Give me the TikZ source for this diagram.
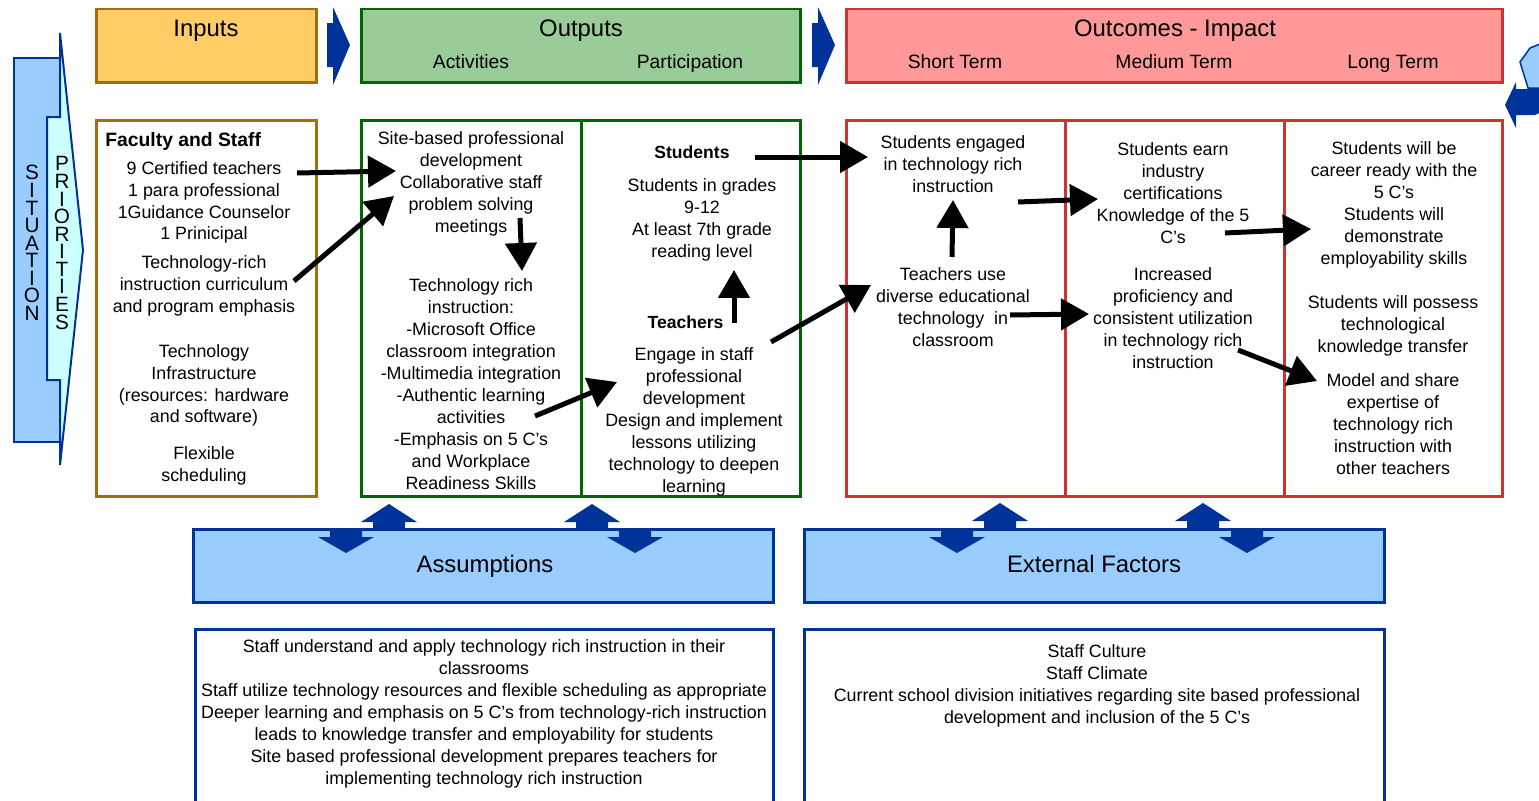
\documentclass[tikz,border=0pt]{standalone}
\usepackage{fontspec}
\setmainfont{Liberation Sans}
\usetikzlibrary{arrows.meta}

% colours of the three columns and of the blue parts
\definecolor{inputfill}{RGB}{255,204,102}
\definecolor{inputline}{RGB}{160,110,10}
\definecolor{outputfill}{RGB}{153,204,153}
\definecolor{outputline}{RGB}{0,102,0}
\definecolor{outcomefill}{RGB}{255,153,153}
\definecolor{outcomeline}{RGB}{204,51,51}
\definecolor{paleblue}{RGB}{153,204,255}
\definecolor{paleaqua}{RGB}{204,255,255}
\definecolor{navy}{RGB}{0,51,153}

\tikzset{
  txt/.style={align=center, inner sep=0pt, yshift=-1.1pt, font=\fontsize{10.15}{12.5}\selectfont},
  boldtxt/.style={inner sep=0pt, text height=0.72em, text depth=0pt, font=\fontsize{10}{12.5}\selectfont\bfseries},
  head/.style={inner sep=0pt, yshift=-1pt, text height=0.72em, text depth=0pt, font=\fontsize{13.6}{16}\selectfont},
  subhead/.style={inner sep=0pt, text height=0.72em, text depth=0pt, font=\fontsize{11}{13}\selectfont},
  letters/.style={align=center, inner sep=0pt, font=\fontsize{11.8}{10}\selectfont},
  frame/.style={line width=0.06cm},
  flow/.style={line width=0.1cm, -{Triangle[length=0.56cm,width=0.62cm]}},
}

\begin{document}
\begin{tikzpicture}[x=0.02cm, y=-0.02cm]
  \useasboundingbox (0,0) rectangle (1539,801);
  \clip (0,0) rectangle (1539,801);

  % Situation and priorities
  \draw [navy, line width=0.04cm, fill=paleblue] (14,58) rectangle (60,442);
  \draw [navy, line width=0.04cm, fill=paleaqua] (47,117) -- (60,117) -- (60,33) -- (83,250)
        -- (60,465) -- (60,380) -- (47,380) -- cycle;
  \node [letters] (situation) at (32,243) {S\\I\\T\\U\\A\\T\\I\\O\\N};
  \node [letters] (priorities) at (62,243) {P\\R\\I\\O\\R\\I\\T\\I\\E\\S};

  % Header bars
  \draw [frame, inputline, fill=inputfill] (96,9) rectangle (316,82);
  \draw [frame, outputline, fill=outputfill] (361,9) rectangle (800,82);
  \draw [frame, outcomeline, fill=outcomefill] (846,9) rectangle (1502,82);
  \node [head] (inputs) at (206,28) {Inputs};
  \node [head] (outputs) at (581,28) {Outputs};
  \node [subhead] (activities) at (471,62) {Activities};
  \node [subhead] (participation) at (690,62) {Participation};
  \node [head] (outcomes) at (1175,28) {Outcomes - Impact};
  \node [subhead] (shortterm) at (955,62) {Short Term};
  \node [subhead] (mediumterm) at (1174,62) {Medium Term};
  \node [subhead] (longterm) at (1393,62) {Long Term};

  % Chevrons between the header bars
  \fill [navy] (327,23) -- (333,23) -- (333,7) -- (350,45) -- (333,85) -- (333,67) -- (327,67) -- cycle;
  \fill [navy] (812,23) -- (818,23) -- (818,7) -- (835,45) -- (818,85) -- (818,67) -- (812,67) -- cycle;

  % Shapes cut off at the right border
  \draw [navy, line width=0.03cm, fill=paleblue] (1520,62) -- (1530,48) -- (1545,42) -- (1545,88) -- (1528,88) -- cycle;
  \fill [navy] (1505,105) -- (1516,82) -- (1516,89) -- (1545,89) -- (1545,110) -- (1535,115)
        -- (1516,115) -- (1516,128) -- cycle;

  % Column boxes
  \draw [frame, inputline, fill=white] (96,120) rectangle (316,496);
  \draw [frame, outputline, fill=white] (361,120) rectangle (800,496);
  \draw [frame, outputline] (581,120) -- (581,496);
  \draw [frame, outcomeline, fill=white] (846,120) rectangle (1502,496);
  \draw [frame, outcomeline] (1065,120) -- (1065,496);
  \draw [frame, outcomeline] (1284,120) -- (1284,496);

  % Inputs
  \node [boldtxt, font=\fontsize{11}{13}\selectfont\bfseries, anchor=west] (facstaff) at (105,140) {Faculty and Staff};
  \node [txt] (staffing) at (204,200.5) {9 Certified teachers\\1 para professional\\1Guidance Counselor\\1 Prinicipal};
  \node [txt] (techrich) at (204,283.5) {Technology-rich\\instruction curriculum\\and program emphasis};
  \node [txt] (infra) at (204,383.5) {Technology\\Infrastructure\\(resources: hardware\\and software)};
  \node [txt] (flex) at (204,464) {Flexible\\scheduling};

  % Outputs: activities
  \node [txt] (sitepd) at (471,182) {Site-based professional\\development\\Collaborative staff\\problem solving\\meetings};
  \node [txt] (techinst) at (471,382.5) {Technology rich\\instruction:\\-Microsoft Office\\classroom integration\\-Multimedia integration\\-Authentic learning\\activities\\-Emphasis on 5 C’s\\and Workplace\\Readiness Skills};

  % Outputs: participation
  \node [boldtxt] (students) at (692,152) {Students};
  \node [txt] (grades) at (702,218) {Students in grades\\9-12\\At least 7th grade\\reading level};
  \node [boldtxt] (teachers) at (685.5,322) {Teachers};
  \node [txt] (engage) at (694,420) {Engage in staff\\professional\\development\\Design and implement\\lessons utilizing\\technology to deepen\\learning};

  % Outcomes: short term
  \node [txt] (engaged) at (953,162) {Students engaged\\in technology rich\\instruction};
  \node [txt] (diverse) at (953,305) {Teachers use\\diverse educational\\technology\ \ in\\classroom};

  % Outcomes: medium term
  \node [txt] (certs) at (1173,191) {Students earn\\industry\\certifications\\Knowledge of the 5\\C’s};
  \node [txt] (proficiency) at (1173,316.5) {Increased\\proficiency and\\consistent utilization\\in technology rich\\instruction};

  % Outcomes: long term
  \node [txt] (career) at (1394,203) {Students will be\\career ready with the\\5 C’s\\Students will\\demonstrate\\employability skills};
  \node [txt] (transfer) at (1393,324) {Students will possess\\technological\\knowledge transfer};
  \node [txt] (share) at (1393,422.5) {Model and share\\expertise of\\technology rich\\instruction with\\other teachers};

  % Arrow ends
  \coordinate (staffing-out) at (297,173);
  \coordinate (sitepd-in) at (396,171);
  \coordinate (techrich-out) at (294,281);
  \coordinate (sitepd-in2) at (394,196);
  \coordinate (sitepd-out) at (520,218);
  \coordinate (techinst-in) at (522,271);
  \coordinate (techinst-out) at (535,416);
  \coordinate (engage-in) at (617,382);
  \coordinate (teachers-out) at (734,323);
  \coordinate (grades-in) at (734,270);
  \coordinate (students-out) at (755,157);
  \coordinate (engaged-in) at (868,157);
  \coordinate (engage-out) at (771,342);
  \coordinate (diverse-in) at (871,285);
  \coordinate (diverse-up) at (952,257);
  \coordinate (engaged-low) at (953,200);
  \coordinate (engaged-out) at (1018,202);
  \coordinate (certs-in) at (1098,199);
  \coordinate (diverse-out) at (1010,315);
  \coordinate (proficiency-in) at (1089,314);
  \coordinate (certs-out) at (1225,233);
  \coordinate (career-in) at (1311,229);
  \coordinate (proficiency-out) at (1238,350);
  \coordinate (share-in) at (1317,381);

  % Black connectors
  \draw [flow] (staffing-out) -- (sitepd-in);
  \draw [flow] (techrich-out) -- (sitepd-in2);
  \draw [flow] (sitepd-out) -- (techinst-in);
  \draw [flow] (techinst-out) -- (engage-in);
  \draw [flow] (teachers-out) -- (grades-in);
  \draw [flow] (students-out) -- (engaged-in);
  \draw [flow] (engage-out) -- (diverse-in);
  \draw [flow] (diverse-up) -- (engaged-low);
  \draw [flow] (engaged-out) -- (certs-in);
  \draw [flow] (diverse-out) -- (proficiency-in);
  \draw [flow] (certs-out) -- (career-in);
  \draw [flow] (proficiency-out) -- (share-in);

  % Assumptions and external factors bars
  \draw [frame, navy, fill=paleblue] (193,529) rectangle (773,602);
  \draw [frame, navy, fill=paleblue] (804,529) rectangle (1384,602);
  \node [head] (assumptions) at (485,564) {Assumptions};
  \node [head] (external) at (1094,564) {External Factors};

  % Up and down block arrows, assumptions
  \fill [navy] (346,528) -- (362,528) -- (362,537) -- (374,537) -- (346,553) -- (318,537) -- (330,537) -- (330,528) -- cycle;
  \fill [navy] (389,504) -- (417,522) -- (405,522) -- (405,530) -- (373,530) -- (373,522) -- (361,522) -- cycle;
  \fill [navy] (592,504) -- (620,522) -- (608,522) -- (608,530) -- (576,530) -- (576,522) -- (564,522) -- cycle;
  \fill [navy] (635,528) -- (651,528) -- (651,537) -- (663,537) -- (635,553) -- (607,537) -- (619,537) -- (619,528) -- cycle;

  % Up and down block arrows, external factors
  \fill [navy] (957,528) -- (973,528) -- (973,537) -- (985,537) -- (957,553) -- (929,537) -- (941,537) -- (941,528) -- cycle;
  \fill [navy] (1000,503) -- (1028,521) -- (1016,521) -- (1016,530) -- (984,530) -- (984,521) -- (972,521) -- cycle;
  \fill [navy] (1203,503) -- (1231,521) -- (1219,521) -- (1219,530) -- (1187,530) -- (1187,521) -- (1175,521) -- cycle;
  \fill [navy] (1247,528) -- (1263,528) -- (1263,537) -- (1275,537) -- (1247,553) -- (1219,537) -- (1231,537) -- (1231,528) -- cycle;

  % Boxes below the bars
  \draw [frame, navy] (195,629) rectangle (773,830);
  \draw [frame, navy] (804,629) rectangle (1384,830);
  \node [txt] (assumlist) at (484,712) {Staff understand and apply technology rich instruction in their\\classrooms\\Staff utilize technology resources and flexible scheduling as appropriate\\Deeper learning and emphasis on 5 C’s from technology-rich instruction\\leads to knowledge transfer and employability for students\\Site based professional development prepares teachers for\\implementing technology rich instruction};
  \node [txt] (extlist) at (1097,684) {Staff Culture\\Staff Climate\\Current school division initiatives regarding site based professional\\development and inclusion of the 5 C’s};
\end{tikzpicture}
\end{document}
